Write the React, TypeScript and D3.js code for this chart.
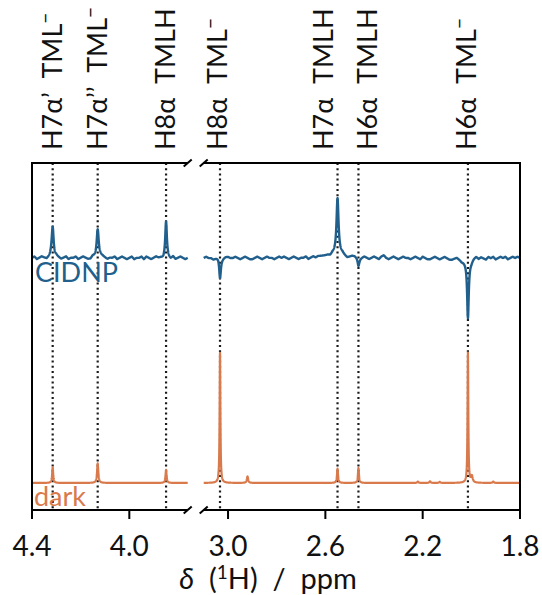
import React from "react";
import * as d3 from "d3";

// ---- data ----
const leftDomain: [number, number] = [4.4, 3.76];
const rightDomain: [number, number] = [3.1, 1.8];
const leftTicks = [4.4, 4.0];
const rightTicks = [3.0, 2.6, 2.2, 1.8];

const assignPpm = [4.315, 4.13, 3.849, 3.033, 2.55, 2.464, 2.014];
const assignLabel = ["H7α’", "H7α’’", "H8α", "H8α", "H7α", "H6α", "H6α"];
const assignSpecies = ["TML", "TML", "TMLH", "TML", "TMLH", "TMLH", "TML"];
const assignMinus = [true, true, false, true, false, false, true];

// CIDNP peaks: position (ppm), amplitude, half width (ppm)
const cidnpPos = [4.315, 4.13, 3.849, 3.033, 2.55, 2.55, 2.464, 2.014, 2.02];
const cidnpAmp = [0.24, 0.23, 0.27, -0.15, 0.44, 0.03, -0.06, -0.44, -0.03];
const cidnpWid = [0.005, 0.005, 0.004, 0.004, 0.005, 0.03, 0.004, 0.004, 0.02];

// dark peaks
const darkPos = [4.315, 4.13, 3.849, 3.033, 2.92, 2.55, 2.464, 2.014, 1.998, 2.22, 2.17, 2.13, 1.91];
const darkAmp = [0.12, 0.15, 0.1, 1.0, 0.05, 0.11, 0.115, 1.0, 0.05, 0.01, 0.012, 0.008, 0.01];
const darkWid = [0.0025, 0.003, 0.0025, 0.0018, 0.003, 0.0025, 0.0025, 0.0018, 0.004, 0.003, 0.003, 0.003, 0.003];

// CIDNP baseline wiggle (x0.01), equally spaced across each panel
const cidnpNoiseLeft = [0, 1, -1, 0, 1, 0, -1, 0, 1, -1, 1, 0, -1, 0, 1, -1, 0, 0, 1, -1, 0, 1, 0, -1, -1, 1, 0, -1, 1, 1, 0, -1, 0, 0, 1, -1, 0, 1, 0, -1, 0, 1, -1, 0, 0, 1, -1, 1, 0, -1, 0, 1, 0, 0, -1, 1, 0, -1, 1, -1, 0, 1, 0, -1, 0];
const cidnpNoiseRight = [0, 1, 0, 0, -1, 0, 1, -1, 0, 1, 1, 0, 0, 1, 0, -1, 0, 1, 0, -1, -1, 0, 1, 0, -1, 0, 1, 0, 0, -1, 0, 1, 0, 1, 0, -1, 0, 1, 0, -1, 0, 0, 1, -1, 0, 1, 0, 1, 1, 1, 1, 1, 0, 1, 0, -1, 0, 1, 0, -1, 0, 1, 1, 0, -1, 0, 1, 0, -1, 0, 1, 0, -1, 1, 2, 0, -1, 0, 1, 0, -1, 0, 1, 0, 0, -1, 0, 1, 0, -1, 1, 0, -1, -1, 0, 1, 0, -1, 0, 1, 0, -1, -1, 0, 1, 0, -1, 0, 1, 0, -1, 1, 2, 0, 1, 0, -1, 1, 0, 1, -1, 0, 1, 0, 1, -1, 0, 1, 0, 1, 0];

// ---- layout ----
const W = 542, H = 595;
const X0 = 32, X1 = 520, GAP = 16;
const Y0 = 163, Y1 = 510;
const labelShift = [0, 0, 0, -2, -14, 10, -1];
const ppmSpan = (leftDomain[0] - leftDomain[1]) + (rightDomain[0] - rightDomain[1]);
const pxPer = (X1 - X0 - GAP) / ppmSpan;
const leftEnd = X0 + (leftDomain[0] - leftDomain[1]) * pxPer;
const rightStart = leftEnd + GAP;

const xL = d3.scaleLinear().domain(leftDomain).range([X0, leftEnd]);
const xR = d3.scaleLinear().domain(rightDomain).range([rightStart, X1]);
const y = d3.scaleLinear().domain([-0.208, 2.46]).range([Y1, Y0]);
const CIDNP_OFF = 1.73;

const BLUE = "#215f8c";
const ORANGE = "#d97a4c";
const FONT = "Lato, 'Open Sans', sans-serif";

function peakSum(p: number, pos: number[], amp: number[], wid: number[]) {
  let s = 0;
  for (let i = 0; i < pos.length; i++) {
    const t = (p - pos[i]) / wid[i];
    s += amp[i] / (1 + t * t);
  }
  return s;
}

function noiseAt(p: number, dom: [number, number], arr: number[]) {
  const f = ((dom[0] - p) / (dom[0] - dom[1])) * (arr.length - 1);
  const i = Math.max(0, Math.min(arr.length - 2, Math.floor(f)));
  const fr = f - i;
  return (arr[i] * (1 - fr) + arr[i + 1] * fr) * 0.01;
}

function trace(dom: [number, number], xs: d3.ScaleLinear<number, number>, kind: "cidnp" | "dark", noise?: number[]) {
  const pts = d3.range(dom[0], dom[1] - 0.00001, -0.0005);
  const line = d3.line<number>()
    .x((p) => xs(p))
    .y((p) => {
      if (kind === "cidnp") {
        return y(CIDNP_OFF + peakSum(p, cidnpPos, cidnpAmp, cidnpWid) + (noise ? noiseAt(p, dom, noise) : 0));
      }
      return y(peakSum(p, darkPos, darkAmp, darkWid));
    });
  return line(pts) || "";
}

function Label({ i }: { i: number }) {
  const p = assignPpm[i];
  const x = p > 3.5 ? xL(p) : xR(p);
  const tx = x + 9 + labelShift[i];
  const ty = 150;
  return (
    <text transform={`translate(${tx},${ty}) rotate(-90)`} fontFamily={FONT} fontSize={27} fill="#111" style={{ whiteSpace: "pre" }}>
      {assignLabel[i] + "  " + assignSpecies[i]}
      {assignMinus[i] ? <tspan dy={-10} fontSize={19}>−</tspan> : null}
    </text>
  );
}

export default function App() {
  const brk = (cx: number, cy: number) => (
    <line x1={cx - 4} y1={cy + 3.5} x2={cx + 4} y2={cy - 3.5} stroke="#000" strokeWidth={2} />
  );
  return (
    <svg width={W} height={H} style={{ position: "absolute", left: 0, top: 0 }}>
      <rect width={W} height={H} fill="#fff" />
      {/* dotted assignment lines */}
      {assignPpm.map((p, i) => {
        const x = p > 3.5 ? xL(p) : xR(p);
        return <line key={"d" + i} x1={x} x2={x} y1={Y0} y2={Y1} stroke="#1a1a1a" strokeWidth={2.2} strokeDasharray="2,3.2" />;
      })}
      {/* traces */}
      <path d={trace(leftDomain, xL, "dark")} fill="none" stroke={ORANGE} strokeWidth={2.2} strokeLinejoin="round" />
      <path d={trace(rightDomain, xR, "dark")} fill="none" stroke={ORANGE} strokeWidth={2.2} strokeLinejoin="round" />
      <path d={trace(leftDomain, xL, "cidnp", cidnpNoiseLeft)} fill="none" stroke={BLUE} strokeWidth={2.4} strokeLinejoin="round" />
      <path d={trace(rightDomain, xR, "cidnp", cidnpNoiseRight)} fill="none" stroke={BLUE} strokeWidth={2.4} strokeLinejoin="round" />
      {/* spines */}
      <path d={`M${leftEnd},${Y0}H${X0}V${Y1}H${leftEnd}`} fill="none" stroke="#000" strokeWidth={2} />
      <path d={`M${rightStart},${Y0}H${X1}V${Y1}H${rightStart}`} fill="none" stroke="#000" strokeWidth={2} />
      {brk(leftEnd, Y0)}
      {brk(leftEnd, Y1)}
      {brk(rightStart, Y0)}
      {brk(rightStart, Y1)}
      {/* ticks */}
      {leftTicks.map((t) => (
        <g key={"lt" + t}>
          <line x1={xL(t)} x2={xL(t)} y1={Y1} y2={Y1 + 9} stroke="#000" strokeWidth={2} />
          <text x={xL(t)} y={556} textAnchor="middle" fontFamily={FONT} fontSize={28} fill="#111">{t.toFixed(1)}</text>
        </g>
      ))}
      {rightTicks.map((t) => (
        <g key={"rt" + t}>
          <line x1={xR(t)} x2={xR(t)} y1={Y1} y2={Y1 + 9} stroke="#000" strokeWidth={2} />
          <text x={xR(t)} y={556} textAnchor="middle" fontFamily={FONT} fontSize={28} fill="#111">{t.toFixed(1)}</text>
        </g>
      ))}
      <text x={268} y={589} textAnchor="middle" fontFamily={FONT} fontSize={29} fill="#111" style={{ whiteSpace: "pre" }}>
        <tspan fontStyle="italic">δ</tspan>{"  ("}<tspan dy={-10} fontSize={19}>1</tspan><tspan dy={10}>{"H)  /  ppm"}</tspan>
      </text>
      {/* labels */}
      {assignPpm.map((_, i) => <Label key={"l" + i} i={i} />)}
      <text x={35} y={282} fontFamily={FONT} fontSize={27} fill={BLUE}>CIDNP</text>
      <text x={34} y={506} fontFamily={FONT} fontSize={27} fill={ORANGE}>dark</text>
    </svg>
  );
}
